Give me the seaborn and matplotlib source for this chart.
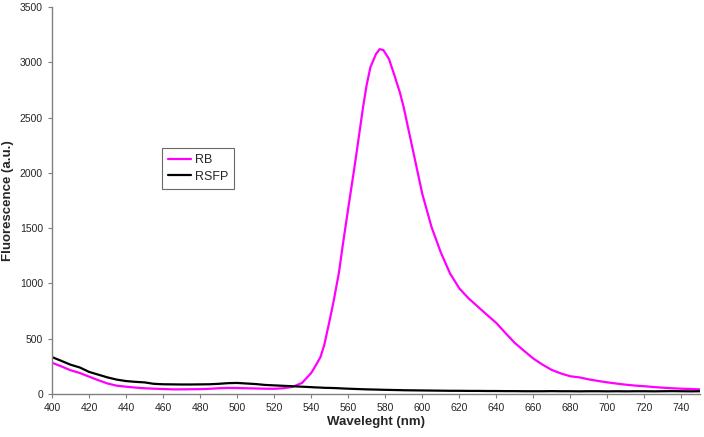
import numpy as np
import pandas as pd
import matplotlib
matplotlib.use('Agg')
import matplotlib.pyplot as plt
import seaborn as sb

# wavelengths (nm)
wl = [400, 405, 410, 415, 420, 425, 430, 435, 440, 445, 450, 455, 460, 465, 470,
      475, 480, 485, 490, 495, 500, 505, 510, 515, 520, 525, 530, 535, 540, 542,
      545, 547, 550, 552, 555, 557, 560, 563, 565, 568, 570, 572, 575, 577, 579,
      582, 585, 588, 590, 595, 600, 605, 610, 615,
      620, 625, 630, 635, 640, 645, 650, 655, 660, 665, 670, 675, 680, 685, 690,
      695, 700, 705, 710, 715, 720, 725, 730, 735, 740, 745, 750]

rb = [283, 250, 215, 190, 157, 125, 95, 75, 66, 58, 52, 48, 45, 42, 42,
      43, 44, 47, 52, 55, 54, 52, 50, 48, 47, 52, 65, 100, 190, 245,
      334, 440, 669, 830, 1100, 1340, 1680, 2010, 2240, 2594, 2800, 2956, 3075, 3119, 3110,
      3030, 2880, 2721, 2590, 2200, 1810, 1510, 1280, 1090,
      955, 865, 790, 715, 642, 550, 461, 390, 320, 265, 217, 185, 160, 150, 132,
      118, 105, 94, 84, 76, 70, 63, 57, 52, 48, 45, 42]

rsfp = [334, 300, 265, 240, 200, 175, 150, 130, 117, 110, 105, 92, 88, 87, 86,
        86, 87, 88, 92, 98, 100, 95, 90, 82, 78, 74, 70, 66, 62, 60,
        58, 56, 55, 54, 52, 50, 48, 46, 45, 43, 42, 41, 40, 39, 38,
        37, 36, 35, 34, 33, 32, 31, 30, 29,
        29, 28, 28, 27, 27, 26, 26, 25, 25, 25, 26, 25, 25, 24, 25,
        25, 24, 25, 24, 25, 25, 24, 25, 26, 25, 24, 25]

df = pd.DataFrame({'wl': wl * 2,
                   'val': rb + rsfp,
                   'series': ['RB'] * len(wl) + ['RSFP'] * len(wl)})

sb.set_style('ticks')
plt.rcParams['font.family'] = ['Liberation Sans', 'DejaVu Sans']

fig = plt.figure(figsize=(7.04, 4.37), dpi=100)
ax = fig.add_axes([52 / 704, 43 / 437, 648 / 704, 387 / 437])

sb.lineplot(data=df, x='wl', y='val', hue='series',
            palette={'RB': '#ff00ff', 'RSFP': 'black'}, linewidth=1.6, ax=ax)

ax.set_xlim(400, 750)
ax.set_ylim(0, 3500)
ax.set_xticks(range(400, 741, 20))
ax.set_yticks(range(0, 3501, 500))
ax.tick_params(labelsize=7.5, direction='out', length=3, width=0.8, color='#808080')
for s in ['top', 'right']:
    ax.spines[s].set_visible(False)
for s in ['left', 'bottom']:
    ax.spines[s].set_color('#808080')
    ax.spines[s].set_linewidth(1.0)

ax.set_xlabel('Waveleght (nm)', fontsize=9.5, fontweight='bold', labelpad=2)
ax.set_ylabel('Fluorescence (a.u.)', fontsize=9.5, fontweight='bold', labelpad=4)

leg = ax.legend(loc='upper left', bbox_to_anchor=(162 / 704, 1 - 148 / 437),
                bbox_transform=fig.transFigure, fontsize=9, frameon=True,
                fancybox=False, handlelength=1.8, handletextpad=0.3,
                borderpad=0.5, labelspacing=0.35, borderaxespad=0)
leg.get_frame().set_edgecolor('#444444')
leg.get_frame().set_linewidth(0.8)

fig.savefig('out.png', dpi=100)
